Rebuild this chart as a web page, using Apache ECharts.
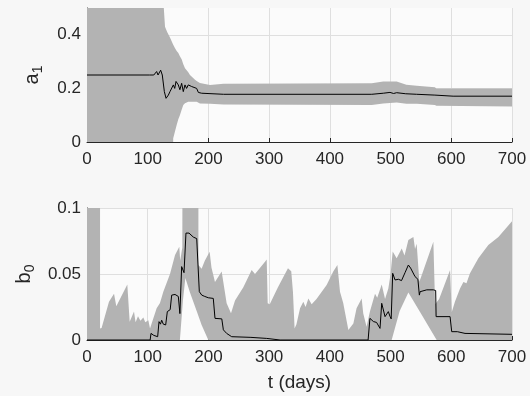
<!DOCTYPE html>
<html>
<head>
<meta charset="utf-8">
<script src="https://cdn.jsdelivr.net/npm/echarts@6/dist/echarts.min.js"></script>
<style>
  html, body { margin: 0; padding: 0; background: #f7f7f7; }
  #chart { width: 530px; height: 396px; }
</style>
</head>
<body>
<div id="chart"></div>
<script>
// x ticks (days)
const tTicks = [0, 100, 200, 300, 400, 500, 600, 700];

// a_1: estimate (black line) as [t, value]
const a1Mean = [
  [0, 0.25], [103, 0.25], [106, 0.244], [110, 0.25], [114.7, 0.263], [117, 0.25],
  [121.3, 0.268], [124, 0.25], [127.4, 0.188], [130.2, 0.163], [134, 0.175],
  [136.7, 0.188], [139, 0.182], [142.2, 0.213], [144.5, 0.2], [146.6, 0.226],
  [150.4, 0.213], [153, 0.195], [155.9, 0.219], [158.6, 0.188], [161.4, 0.213],
  [164, 0.2], [166.8, 0.213], [172.4, 0.207], [180.6, 0.2], [183.4, 0.185],
  [188.8, 0.182], [225, 0.178], [469, 0.178], [488, 0.182], [499, 0.185],
  [505, 0.181], [510, 0.184], [525, 0.18], [543, 0.178], [573, 0.175],
  [603, 0.171], [700, 0.171]
];
// a_1: band upper / lower edges
const a1Upper = [
  [0, 1], [125, 1], [126.5, 0.5], [128.5, 0.43], [132, 0.41], [136.7, 0.39],
  [142, 0.363], [145, 0.35], [147.7, 0.34], [150.4, 0.332], [153, 0.32],
  [155.9, 0.309], [158.6, 0.29], [161.4, 0.275], [166.8, 0.26], [169.6, 0.25],
  [177.9, 0.232], [180.6, 0.228], [186, 0.22], [202.6, 0.213], [225, 0.217],
  [469, 0.219], [488, 0.226], [510, 0.226], [526, 0.214], [543, 0.21],
  [573, 0.204], [575.4, 0.2], [700, 0.2]
];
const a1Lower = [
  [0, -0.3], [140, -0.3], [142, 0.014], [145, 0.04], [147.7, 0.063],
  [150.4, 0.085], [153, 0.1], [155.9, 0.12], [158.6, 0.138], [161.4, 0.145],
  [166.8, 0.15], [180.6, 0.15], [186, 0.144], [202.6, 0.143], [225, 0.14],
  [469, 0.138], [488, 0.144], [510, 0.147], [526, 0.143], [543, 0.143],
  [573, 0.138], [575.4, 0.135], [700, 0.132]
];

// b_0: estimate (black line)
const b0Mean = [
  [0, 0], [104, 0], [105.4, 0.005], [110, 0.0035], [116.4, 0.0025], [118.6, 0.0139],
  [121, 0.012], [123, 0.015], [125.7, 0.012], [129.6, 0.0114], [132.3, 0.0215],
  [135, 0.021], [137, 0.023], [139.5, 0.034], [145, 0.0345], [150.4, 0.033],
  [153, 0.02], [155.9, 0.0556], [159.8, 0.051], [163, 0.081], [168, 0.081],
  [175, 0.078], [180.7, 0.0768], [185, 0.0366], [189, 0.034], [194, 0.033],
  [199.8, 0.032], [208, 0.0315], [210.8, 0.0164], [222, 0.016], [224.6, 0.0077],
  [230, 0.005], [238.3, 0.0025], [270, 0.002], [296, 0.0012], [318, 0],
  [463, 0], [466, 0.0164], [471.7, 0.014], [477, 0.0133], [482.6, 0.0088],
  [485.4, 0.0278], [490.9, 0.0177], [496.3, 0.0215], [499, 0.018], [501, 0.016],
  [503.5, 0.0505], [507.4, 0.0455], [513, 0.046], [518, 0.045], [521, 0.0455],
  [523.8, 0.051], [529.3, 0.0568], [533, 0.0545], [540.3, 0.048], [545, 0.046],
  [547.4, 0.034], [548.6, 0.0366], [559.6, 0.038], [570.5, 0.038], [574.3, 0.0375],
  [575, 0.0177], [598, 0.0177], [600.7, 0.0063], [610, 0.0063], [622.6, 0.005],
  [700, 0.0043]
];
// b_0: band upper / lower edges
const b0Upper = [
  [0, 1], [21.4, 1], [21.5, 0.0088], [24, 0.009], [36.2, 0.029], [44.5, 0.035],
  [48.3, 0.0255], [66.4, 0.042], [70.3, 0.0139], [77.4, 0.0215], [80, 0.0135],
  [84, 0.018], [88, 0.0145], [92.8, 0.017], [96, 0.0135], [101, 0.015],
  [103.8, 0.0088], [114.7, 0.024], [120.2, 0.028], [125.7, 0.0366], [136.7, 0.05],
  [145, 0.0644], [152, 0.0707], [153.5, 0.06], [157, 0.07], [160.5, 1],
  [183.4, 1], [183.5, 0.0568], [188.8, 0.054], [194, 0.06], [202, 0.0669],
  [205, 0.055], [210.8, 0.044], [221.8, 0.0518], [230, 0.0278], [237.2, 0.0202],
  [243.8, 0.03], [257.5, 0.04], [271.2, 0.053], [276.7, 0.05], [293.2, 0.0593],
  [296, 0.061], [297.6, 0.0278], [301, 0.027], [314.5, 0.04], [331, 0.0543],
  [336.4, 0.052], [339.2, 0.0366], [341.9, 0.0088], [345, 0.012], [350.9, 0.024],
  [356.3, 0.029], [360, 0.025], [364.6, 0.0314], [370, 0.027], [378, 0.031],
  [394.7, 0.0417], [405.6, 0.0518], [412.4, 0.0568], [416.7, 0.0366], [422, 0.028],
  [430.5, 0.0076], [438.7, 0.0125], [444, 0.024], [452.4, 0.0315], [455, 0.02],
  [460.5, 0.0101], [466, 0.0215], [474.4, 0.035], [478, 0.032], [485.4, 0.042],
  [490.9, 0.031], [496.3, 0.0391], [500, 0.05], [503.5, 0.067], [510, 0.062],
  [518.4, 0.0694], [523, 0.064], [529.3, 0.0758], [537.6, 0.078], [540.3, 0.069],
  [543, 0.073], [547.4, 0.0442], [552, 0.05], [570.5, 0.0745], [573.3, 0.027],
  [580, 0.031], [598, 0.053], [600.7, 0.021], [606, 0.029], [614.4, 0.0391],
  [620, 0.044], [625, 0.043], [630.8, 0.0505], [644.6, 0.062], [661, 0.072],
  [677.6, 0.078], [700, 0.09]
];
const b0Lower = [
  [0, 0], [153, 0], [158, 0.03], [162, 0.047], [169.6, 0.036], [180.6, 0.022],
  [188.8, 0.0114], [199.8, 0], [501.8, 0], [515, 0.022], [529.3, 0.036],
  [550, 0.02], [575.9, 0], [700, 0]
];

const BAND = '#b3b3b3';
const INK = '#262626';
const GRIDC = '#dfdfdf';

const chart = echarts.init(document.getElementById('chart'), null, { renderer: 'canvas' });

function band(idx, upper, lower) {
  return {
    type: 'custom',
    xAxisIndex: idx,
    yAxisIndex: idx,
    silent: true,
    z: 1,
    data: [[0, 0]],
    renderItem: function (params, api) {
      const pts = upper.map(p => api.coord(p))
        .concat(lower.slice().reverse().map(p => api.coord(p)));
      const cs = params.coordSys;
      return {
        type: 'polygon',
        shape: { points: pts },
        style: { fill: BAND, stroke: null },
        clipPath: { type: 'rect', shape: { x: cs.x, y: cs.y, width: cs.width, height: cs.height } }
      };
    }
  };
}

function meanLine(idx, data) {
  return {
    type: 'line',
    xAxisIndex: idx,
    yAxisIndex: idx,
    data: data,
    showSymbol: false,
    silent: true,
    z: 3,
    clip: true,
    lineStyle: { color: '#000', width: 1 }
  };
}

function xAx(idx, withName) {
  return {
    type: 'value', gridIndex: idx, min: 0, max: 700, interval: 100,
    name: withName ? 't (days)' : '',
    nameLocation: 'middle', nameGap: 33,
    nameTextStyle: { fontSize: 19, color: INK, fontFamily: 'Liberation Sans' },
    axisLine: { show: true, onZero: false, lineStyle: { color: INK, width: 1 } },
    axisTick: { show: true, inside: true, length: 4, lineStyle: { color: INK } },
    axisLabel: { fontSize: 17, color: INK, margin: 9, fontFamily: 'Liberation Sans' },
    splitLine: { show: true, showMinLine: false, lineStyle: { color: GRIDC, width: 1 } }
  };
}

function yAx(idx, max, interval, name, showMax) {
  return {
    type: 'value', gridIndex: idx, min: 0, max: max, interval: interval,
    name: name, nameLocation: 'middle', nameRotate: 90, nameGap: 42,
    nameTextStyle: {
      color: INK, fontFamily: 'Liberation Sans',
      rich: {
        m: { fontSize: 20, color: INK, fontFamily: 'Liberation Sans', lineHeight: 26 },
        s: { fontSize: 14, color: INK, fontFamily: 'Liberation Sans', lineHeight: 14, verticalAlign: 'bottom' }
      }
    },
    axisLine: { show: true, onZero: false, lineStyle: { color: INK, width: 1 } },
    axisTick: { show: true, inside: true, length: 4, lineStyle: { color: INK } },
    axisLabel: {
      fontSize: 17, color: INK, margin: 6, fontFamily: 'Liberation Sans',
      showMaxLabel: showMax,
      formatter: v => String(Math.round(v * 1000) / 1000)
    },
    splitLine: { show: true, showMinLine: false, showMaxLine: showMax, lineStyle: { color: GRIDC, width: 1 } }
  };
}

chart.setOption({
  backgroundColor: '#f7f7f7',
  animation: false,
  grid: [
    { left: 87, top: 8, width: 425, height: 134, show: true, backgroundColor: '#fbfbfb', borderWidth: 0 },
    { left: 87, top: 208, width: 425, height: 132, show: true, backgroundColor: '#fbfbfb', borderWidth: 0 }
  ],
  xAxis: [xAx(0, false), xAx(1, true)],
  yAxis: [
    yAx(0, 0.5, 0.2, '{m|a}{s|1}', false),
    yAx(1, 0.1, 0.05, '{m|b}{s|0}', true)
  ],
  series: [
    band(0, a1Upper, a1Lower),
    meanLine(0, a1Mean),
    band(1, b0Upper, b0Lower),
    meanLine(1, b0Mean)
  ]
});
</script>
</body>
</html>
